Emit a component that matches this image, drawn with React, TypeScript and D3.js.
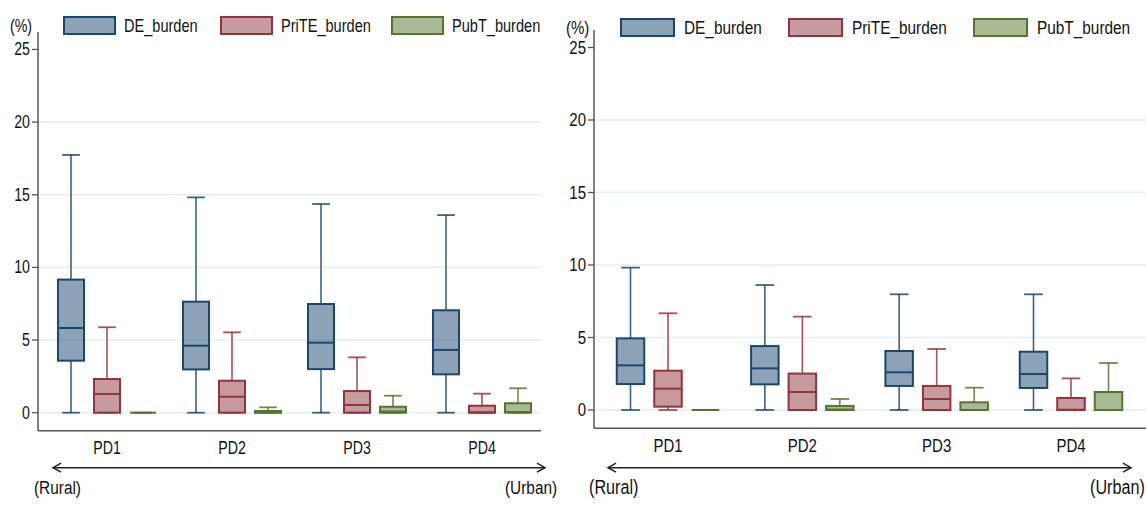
import React from 'react';
import * as d3 from 'd3';

// values: [lower whisker, q1, median, q3, upper whisker] per PD group
const categories = ['PD1', 'PD2', 'PD3', 'PD4'];
const seriesNames = ['DE_burden', 'PriTE_burden', 'PubT_burden'];
const yTicks = [0, 5, 10, 15, 20, 25];

const leftDE = [
  [0, 3.58, 5.83, 9.16, 17.74],
  [0, 2.98, 4.61, 7.64, 14.82],
  [0, 3.0, 4.82, 7.48, 14.36],
  [0, 2.64, 4.32, 7.05, 13.6],
];
const leftPriTE = [
  [0, 0, 1.29, 2.32, 5.88],
  [0, 0, 1.1, 2.2, 5.53],
  [0, 0, 0.53, 1.49, 3.81],
  [0, 0, 0.02, 0.48, 1.31],
];
const leftPubT = [
  [0, 0, 0, 0, 0],
  [0, 0, 0.02, 0.12, 0.37],
  [0, 0, 0.08, 0.41, 1.17],
  [0, 0, 0.05, 0.65, 1.68],
];

const rightDE = [
  [0, 1.79, 3.08, 4.94, 9.82],
  [0, 1.77, 2.87, 4.41, 8.62],
  [0, 1.66, 2.6, 4.07, 7.98],
  [0, 1.52, 2.48, 4.02, 7.98],
];
const rightPriTE = [
  [0, 0.23, 1.47, 2.71, 6.67],
  [0, 0, 1.24, 2.51, 6.44],
  [0, 0, 0.76, 1.66, 4.21],
  [0, 0, 0.02, 0.83, 2.18],
];
const rightPubT = [
  [0, 0, 0, 0, 0],
  [0, 0, 0.03, 0.28, 0.76],
  [0, 0, 0, 0.53, 1.54],
  [0, 0, 0, 1.24, 3.24],
];

const colors = ['#1a476f', '#90353b', '#55752f'];
const SX = 0.81; // the original font is a narrow one

const T = ({ x, y, anchor = 'start', size, children }) => (
  <text
    transform={`translate(${x},${y}) scale(${SX},1)`}
    textAnchor={anchor}
    dominantBaseline="central"
    fontSize={size}
    fill="#111"
  >
    {children}
  </text>
);

const Panel = ({ data, p }) => {
  const y = d3.scaleLinear().domain([0, 25]).range([p.zeroY, p.zeroY - 25 * p.unit]);
  const x = d3.scalePoint().domain(categories).range([p.firstC, p.lastC]);
  const sub = d3.scalePoint().domain(seriesNames).range([-p.off, p.off]);
  const bw = p.boxW;
  const cw = bw * 0.68;

  return (
    <g>
      {/* grid */}
      {yTicks.filter(t => t < 25).map(t => (
        <line key={'g' + t} x1={p.axisX} x2={p.right} y1={y(t)} y2={y(t)} stroke="#e4edf4" strokeWidth={1.6} />
      ))}

      {/* axes */}
      <line x1={p.axisX} x2={p.axisX} y1={p.axisTop} y2={p.axisBottom} stroke="#555" strokeWidth={1.5} />
      <line x1={p.axisX} x2={p.right} y1={p.axisBottom} y2={p.axisBottom} stroke="#555" strokeWidth={1.5} />
      {yTicks.map(t => (
        <g key={'t' + t}>
          <line x1={p.axisX - 6} x2={p.axisX} y1={y(t)} y2={y(t)} stroke="#555" strokeWidth={1.3} />
          <T x={p.axisX - 8} y={y(t)} anchor="end" size={p.fs}>{t}</T>
        </g>
      ))}
      <T x={p.pctX} y={p.legendY} size={p.fs}>(%)</T>

      {/* boxes */}
      {seriesNames.map((s, si) => (
        <g key={s}>
          {categories.map((c, ci) => {
            const [lo, q1, med, q3, hi] = data[si][ci];
            const cx = x(c) + sub(s);
            const col = colors[si];
            return (
              <g key={c}>
                <line x1={cx} x2={cx} y1={y(q3)} y2={y(hi)} stroke={col} strokeOpacity={0.85} strokeWidth={1.6} />
                <line x1={cx} x2={cx} y1={y(q1)} y2={y(lo)} stroke={col} strokeOpacity={0.85} strokeWidth={1.6} />
                <line x1={cx - cw / 2} x2={cx + cw / 2} y1={y(hi)} y2={y(hi)} stroke={col} strokeOpacity={0.85} strokeWidth={1.8} />
                <line x1={cx - cw / 2} x2={cx + cw / 2} y1={y(lo)} y2={y(lo)} stroke={col} strokeOpacity={0.85} strokeWidth={1.8} />
                <rect
                  x={cx - bw / 2}
                  y={y(q3)}
                  width={bw}
                  height={Math.max(0, y(q1) - y(q3))}
                  fill={col}
                  fillOpacity={0.5}
                  stroke={col}
                  strokeWidth={2}
                />
                <line x1={cx - bw / 2} x2={cx + bw / 2} y1={y(med)} y2={y(med)} stroke={col} strokeWidth={2} />
              </g>
            );
          })}
        </g>
      ))}

      {/* category labels */}
      {categories.map(c => (
        <T key={c} x={x(c)} y={p.catY} anchor="middle" size={p.fs}>{c}</T>
      ))}

      {/* rural / urban arrow */}
      <line x1={p.arrow[0]} x2={p.arrow[1]} y1={p.arrowY} y2={p.arrowY} stroke="#222" strokeWidth={1.5} />
      <path
        d={`M${p.arrow[0] + 8},${p.arrowY - 4.5} L${p.arrow[0]},${p.arrowY} L${p.arrow[0] + 8},${p.arrowY + 4.5}`}
        fill="none" stroke="#222" strokeWidth={1.5}
      />
      <path
        d={`M${p.arrow[1] - 8},${p.arrowY - 4.5} L${p.arrow[1]},${p.arrowY} L${p.arrow[1] - 8},${p.arrowY + 4.5}`}
        fill="none" stroke="#222" strokeWidth={1.5}
      />
      <T x={p.ruralX} y={487} size={p.fs + 1.5}>(Rural)</T>
      <T x={p.urbanX} y={487} size={p.fs + 1.5}>(Urban)</T>

      {/* legend */}
      {seriesNames.map((s, si) => (
        <g key={'l' + s}>
          <rect
            x={p.legend[si][0]}
            y={p.legendY - 8.5}
            width={p.legendW}
            height={17}
            fill={colors[si]}
            fillOpacity={0.5}
            stroke={colors[si]}
            strokeWidth={2}
          />
          <T x={p.legend[si][1]} y={p.legendY} size={p.fs + 0.5}>{s}</T>
        </g>
      ))}
    </g>
  );
};

const leftLayout = {
  axisX: 38, right: 541, zeroY: 412.7, unit: 14.53, axisTop: 32, axisBottom: 430.7,
  firstC: 107, lastC: 482, off: 36, boxW: 26, fs: 17.5, catY: 448,
  pctX: 10, legendY: 25.5, legendW: 51,
  legend: [[64, 124], [221, 281], [392, 452]],
  arrow: [53, 545], arrowY: 467.7, ruralX: 34, urbanX: 505,
};

const rightLayout = {
  axisX: 594, right: 1160, zeroY: 410, unit: 14.5, axisTop: 30, axisBottom: 428.3,
  firstC: 668, lastC: 1071, off: 37.5, boxW: 27.5, fs: 18.5, catY: 446,
  pctX: 566, legendY: 27.5, legendW: 53,
  legend: [[621, 684], [789, 852], [974, 1037]],
  arrow: [608, 1131], arrowY: 467.7, ruralX: 589, urbanX: 1090,
};

export default function App() {
  return (
    <div style={{ position: 'absolute', left: 0, top: 0 }}>
      <svg width={1146} height={511} style={{ display: 'block', fontFamily: '"Liberation Sans", Arial, sans-serif' }}>
        <rect width={1146} height={511} fill="#fff" />
        <Panel data={[leftDE, leftPriTE, leftPubT]} p={leftLayout} />
        <Panel data={[rightDE, rightPriTE, rightPubT]} p={rightLayout} />
      </svg>
    </div>
  );
}
